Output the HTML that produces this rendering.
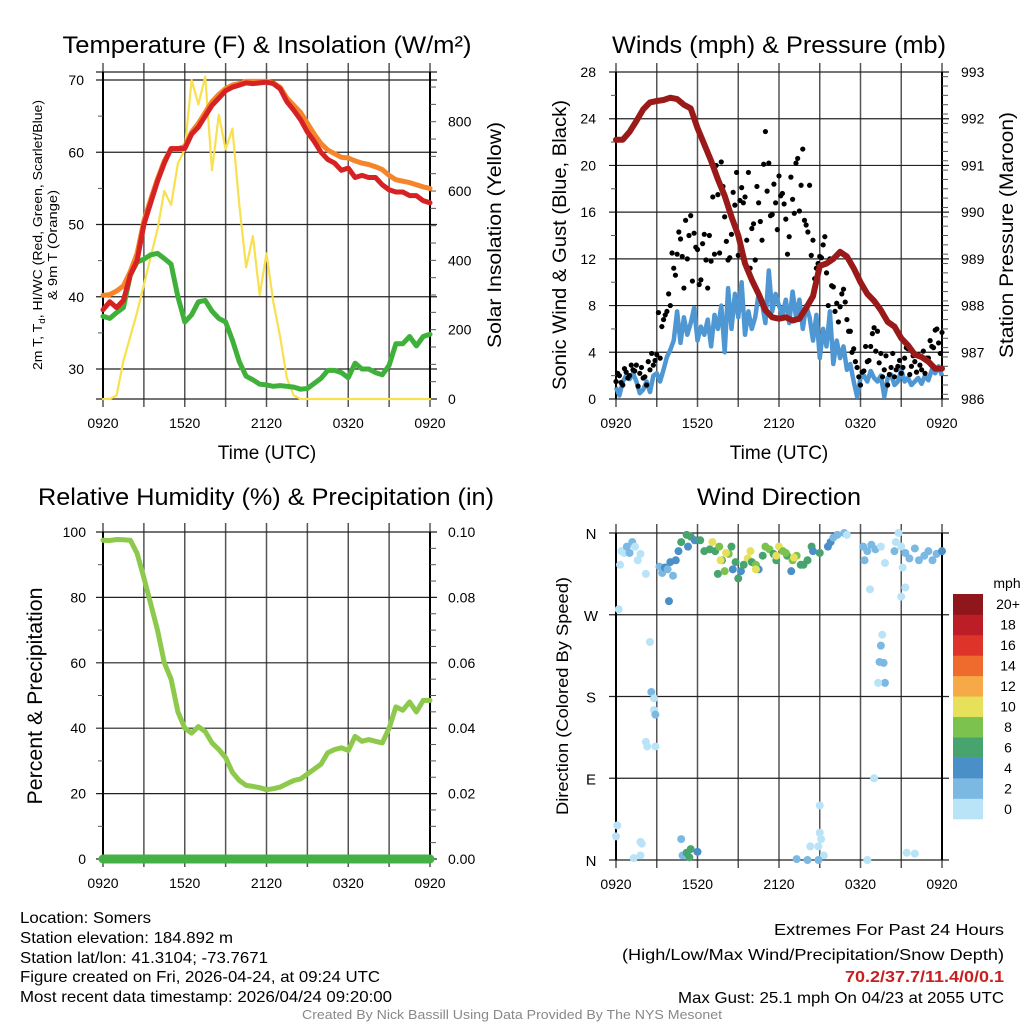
<!DOCTYPE html>
<html><head><meta charset="utf-8"><style>
html,body{margin:0;padding:0;background:#fff;}
svg{display:block;font-family:"Liberation Sans",sans-serif;}
</style></head><body>
<svg id="fig" width="1024" height="1024" viewBox="0 0 1024 1024" xmlns="http://www.w3.org/2000/svg"></svg>
<script>
// ---------- DATA (30-minute steps from 0920 UTC to 0920 UTC) ----------
const timeLabels = ["0920","1520","2120","0320","0920"];
const tempTicks = [30,40,50,60,70];
const solarTicks = [0,200,400,600,800];
const windTicks = [0,4,8,12,16,20,24,28];
const presTicks = [986,987,988,989,990,991,992,993];
const rhTicks = [0,20,40,60,80,100];
const precipTicks = ["0.00","0.02","0.04","0.06","0.08","0.10"];
const dirLabels = ["N","E","S","W","N"];
const speedBinLabels = ["0","2","4","6","8","10","12","14","16","18","20+"];
const speedBinColors = ["#b9e3f7","#7bb9e3","#4a8fc7","#48a46f","#7cc24e","#e6e05a","#f6a947","#ef6a2d","#dd3329","#bd1d26","#8f161b"];

const temp2m = [38.2,39.3,38.5,39.5,43,45,50,53,56,58.5,60.5,60.5,60.5,62.5,63.5,65,66.5,67.5,68.5,69,69.3,69.6,69.5,69.6,69.7,69.5,68.8,67,65.8,64.5,62.8,61.5,60,59,58.5,57.5,57.8,56.5,56.8,56.5,56.5,55.5,54.8,54.5,54.5,54,54,53.3,53];
const temp9m = [40.2,40.3,40.8,41.5,43.5,46,50.5,53.5,56.3,58.8,60.5,60.5,60.8,62.8,64,65.5,67,68,68.8,69.3,69.5,69.8,69.8,69.8,69.8,69.6,69,67.5,66.5,65.5,64,62.5,61.2,60.3,59.8,59.3,59.2,58.8,58.5,58.3,58,57.6,56.8,56.2,56,55.8,55.5,55.2,55];
const dewpoint = [37.3,37,37.8,38.5,43,44.8,45.2,45.8,46,45.3,44.5,40,36.5,37.5,39.3,39.5,38,37,36.5,34,31,29,28.5,27.9,27.8,27.6,27.7,27.6,27.5,27.2,27.3,28,28.7,29.8,29.8,29.5,28.8,30.8,30,30,29.5,29.2,30.5,33.5,33.5,34.5,33.2,34.5,34.8];
const solar = [0,0,10,110,180,250,330,410,490,600,560,680,720,920,850,930,660,820,720,780,560,380,470,300,420,280,180,60,10,0,0,0,0,0,0,0,0,0,0,0,0,0,0,0,0,0,0,0,0];
const pressure = [991.55,991.55,991.72,991.95,992.2,992.35,992.38,992.4,992.45,992.42,992.3,992.22,991.8,991.45,991.1,990.7,990.35,989.9,989.5,988.9,988.55,988.25,987.9,987.75,987.72,987.75,987.68,987.72,987.95,988.2,988.85,988.9,989.0,989.15,989.05,988.8,988.5,988.25,988.1,987.9,987.65,987.55,987.3,987.15,986.95,986.9,986.8,986.65,986.65];
// sustained wind at 15-minute steps
const windSpeed = [1,0.3,1.5,2,1.7,2.2,1.5,0.5,0.8,1.5,0.6,2,2.2,1.5,2.5,3.6,4.2,5,7.5,4.8,7,5.5,6.5,7.8,5,6.2,5.5,6.8,4.5,7.2,6,8,4,9.5,6,9,7,10,5.5,7.5,6,7,9,8.2,6.5,11,7.5,9,8,7.2,8.5,6.5,9.2,7,8.5,6,8,7,5,7.2,3.5,6,4.5,7.5,3,5,3.5,4.5,2.5,3,1.5,0.2,1.8,2,1.5,2.4,1.8,1.5,2,0.2,1.8,2.1,1.2,1.5,2.5,1.5,1.8,1.2,1.5,1.8,1.3,2,1.6,2.5,2.2,2.8,2];
// gusts at 15-minute steps
const windGust = [1.5,2,1.2,2.3,2,2.5,2.9,2.2,1.8,1.2,2.5,2.9,3.8,3.5,6.8,7.5,8,11.2,12.4,13.7,9.5,12,15.7,14.2,12.8,10.2,14.1,9.5,11.8,12.4,17.5,20.3,15.6,11.9,14.1,16.6,12.3,18.1,17.3,19.4,14.6,11.9,16.8,13.6,22.9,20.2,15.8,16.8,19.1,17.6,15.4,13.9,17.1,20.2,16.1,21.4,14.9,18.3,13.6,11.2,12.2,13.2,10.8,12,9.6,8.2,7.9,9.4,6.8,5.8,4.3,2.7,1.2,2.4,3.2,4.5,6.1,5.8,3.9,2.5,1.2,2.7,1.9,2.8,2.2,3.5,4.3,2.8,3.2,3.8,2.5,2.2,3.5,4.5,5.9,4.8,5.7];
// gusts offset by 7.5 minutes
const windGustB = [2.2,1.4,2.6,1.8,2.9,2.4,1.1,2.7,1.9,3.2,3.9,3.3,7.4,6.2,7.2,9.0,12.5,10.6,14.3,12.2,15.3,14.0,10.1,13.0,9.8,13.3,11.9,14.0,17.3,20.0,12.5,18.2,13.5,12.1,17.7,19.4,17.0,16.8,13.6,11.2,15.0,18.2,15.2,20.1,17.8,15.7,18.4,14.5,17.4,16.7,12.4,19.0,15.9,20.6,18.3,15.3,14.3,12.3,10.3,11.6,12.1,13.9,8.0,9.7,7.5,6.6,9.0,8.3,5.8,4.0,3.2,1.9,2.3,4.5,3.3,5.6,4.1,3.1,1.9,3.7,2.1,3.9,2.5,3.3,2.7,4.4,2.1,3.7,2.3,2.9,4.1,3.5,5.0,4.4,6.0,3.9];
const relHum = [97.5,97.4,97.7,97.6,97.5,93.5,86,78,70,60,55,45,40,38.5,40.5,39,35.5,33.5,31,26.5,24,22.5,22.2,21.8,21.2,21.5,22,23,24,24.5,26,27.5,29,32.5,33.5,34,33.2,37.5,36,36.5,36,35.5,40,46.5,45.5,48,45,48.5,48.5];
const precip = [0,0,0,0,0,0,0,0,0,0,0,0,0,0,0,0,0,0,0,0,0,0,0,0,0,0,0,0,0,0,0,0,0,0,0,0,0,0,0,0,0,0,0,0,0,0,0,0,0];
// wind direction observations: hours since 0920, direction (deg), speed (mph)
const dirHours = [0.4,0.6,0.8,1.0,1.2,1.4,1.6,0.3,1.8,2.2,0.2,2.5,2.6,2.8,2.8,2.9,2.2,2.3,2.9,0.1,0.0,1.8,1.9,1.3,1.8,3.2,3.4,3.6,3.8,4.0,4.2,4.4,4.6,4.8,5.2,5.5,5.3,5.8,4.8,4.9,5.2,5.5,5.4,6.0,3.9,6.5,6.9,7.1,7.3,7.6,7.8,8.3,8.5,8.8,9.2,9.7,10.0,10.3,10.8,11.0,11.3,11.6,12.0,12.3,12.6,13.0,13.3,13.8,14.1,14.4,15.0,15.6,15.8,16.0,16.3,16.8,17.0,7.5,8.0,8.6,9.4,10.5,12.9,9.0,11.8,14.5,18.2,18.5,18.8,19.1,18.3,19.5,19.8,18.7,19.5,19.6,19.4,19.7,19.8,19.3,19.0,20.6,20.8,21.0,21.3,21.6,22.0,22.3,22.7,23.0,23.3,23.6,24.0,21.1,21.0,21.3,20.5,15.0,15.0,15.1,14.9,14.3,15.3,18.5,21.4,22.0,13.3,14.1,14.9,7.7,8.1,9.9,11.8,13.1,10.3,6.2,12.5,13.6];
const dirDeg = [340,338,345,338,350,345,330,325,337,315,276,240,185,178,165,160,130,125,125,38,26,20,18,2,5,323,316,322,320,328,313,330,340,350,358,356,345,352,23,5,8,12,3,9,285,340,342,350,340,345,330,337,345,328,318,332,328,325,335,345,342,337,345,340,335,330,335,325,330,345,338,345,350,355,358,360,358,315,318,320,325,320,318,310,330,340,345,340,347,342,330,345,327,298,236,248,218,217,195,195,90,350,360,345,338,332,343,330,335,340,330,337,340,322,290,300,340,60,30,23,15,15,5,0,8,7,1,0,0,330,338,340,335,333,320,352,338,325];
const dirSpeed = [1,1.5,2,2.5,2.5,1,1,0.5,1,0.5,0.5,0.5,2.5,1,1.5,2.5,1.5,1,1,1,1,1,1,1,1,2.5,3,4.5,3.5,4.5,3,5,5.5,6.5,6,7,5,4.5,3.5,3.5,6,6,6,4,5,6,6,10,7,8,6,9,6,6,5,10,7,8,7,9,8,7,10,8,7,9,8,6,7,6,7,4,4,3,3,2,1,6,8,5,6,5,4,6,6,5,2,2,2,2,2,1,1,1,2,1,2,3,2,1,1,1,1,1.5,2,2,2,2.5,3,2.5,2,3,4,1,0.5,1,2,1,1,1,1.5,1,1,1,1,1,3,3,2,10,10.5,10,11,10.5,10,7,8,7];

// ---------- helpers ----------
const NS="http://www.w3.org/2000/svg";
const svg=document.getElementById('fig');
function mk(tag,attrs,parent){const e=document.createElementNS(NS,tag);for(const k in attrs)e.setAttribute(k,attrs[k]);(parent||svg).appendChild(e);return e;}
function txt(s,attrs,parent){const e=mk('text',attrs,parent);e.textContent=s;return e;}
function xScale(p,h){return p.x0+(h/24)*(p.x1-p.x0);}
function lin(v,d0,d1,r0,r1){return r0+(v-d0)/(d1-d0)*(r1-r0);}
function seriesPath(p,arr,step,yf){let d='';arr.forEach((v,i)=>{const x=xScale(p,i*step),y=yf(v);d+=(i?'L':'M')+x.toFixed(1)+' '+y.toFixed(1);});return d;}

function frame(p,name,hLines){
  const g=mk('g',{});
  
  
  for(let i=0;i<=8;i++){
    const x=xScale(p,i*3);
    mk('line',{x1:x,x2:x,y1:p.y0-9,y2:p.y1+8,stroke:'#555','stroke-width':1.5},g);
  }
  hLines.forEach(y=>mk('line',{x1:p.x0-7,x2:p.x1+7,y1:y,y2:y,stroke:'#222','stroke-width':1.2},g));
  mk('line',{x1:p.x0,x2:p.x0,y1:p.y0,y2:p.y1,stroke:'#000','stroke-width':2},g);
  mk('line',{x1:p.x1,x2:p.x1,y1:p.y0,y2:p.y1,stroke:'#000','stroke-width':2},g);
  timeLabels.forEach((s,i)=>{
    const t=txt(s,{x:xScale(p,i*6),y:p.y1+29,'font-size':14,'text-anchor':'middle'});
    
    
  });
  return g;
}
function title(s,x,y,w,name){const t=txt(s,{x:x,y:y,'font-size':24,'text-anchor':'middle',textLength:w,lengthAdjust:'spacingAndGlyphs'});return t;}
function vtitle(s,cx,cy,len,fs,name){const t=txt(s,{x:0,y:0,'font-size':fs,'text-anchor':'middle',textLength:len,lengthAdjust:'spacingAndGlyphs',transform:`translate(${cx},${cy}) rotate(-90)`});return t;}
function minor(x,y,len){mk('line',{x1:x,x2:x+len,y1:y,y2:y,stroke:'#555','stroke-width':1});}

// ---------- Panel 1: temperature ----------
const P1={x0:103,x1:430,y0:72,y1:399};
const tY=v=>lin(v,30,70,369,80);
const sY=v=>lin(v,0,800,399,121.7);
title('Temperature (F) & Insolation (W/m\u00B2)',267,53,409,'temperature-title');
frame(P1,'temperature',[72].concat(tempTicks.map(tY),[399]));
for(let v=35;v<=65;v+=10)minor(P1.x0-5,tY(v),5);
for(let v=50;v<=900;v+=50)minor(P1.x1,sY(v),6);
tempTicks.forEach(v=>{const t=txt(String(v),{x:84,y:tY(v)+5,'font-size':14,'text-anchor':'end'});});
solarTicks.forEach(v=>{const t=txt(String(v),{x:448,y:sY(v)+5,'font-size':14});});
{const t=mk('text',{x:0,y:0,'font-size':13,'text-anchor':'middle',transform:'translate(42,235) rotate(-90)',textLength:270,lengthAdjust:'spacingAndGlyphs'});
 const a=mk('tspan',{},t);a.textContent='2m T, T';const b=mk('tspan',{'font-size':9,dy:3},t);b.textContent='d';const c=mk('tspan',{dy:-3},t);c.textContent=', HI/WC (Red, Green, Scarlet/Blue)';
 }
vtitle('& 9m T (Orange)',57,245,110,13,'temp-axis-title-2');
vtitle('Solar Insolation (Yellow)',501,235,226,19,'solar-axis-title');
const xt1=txt('Time (UTC)',{x:267,y:459,'font-size':19,'text-anchor':'middle'});
[[solar,'#f9e04f',2.2,'solar-line'],[dewpoint,'#3fb03a',5,'dewpoint-line'],[temp9m,'#f5842a',5,'temp-9m-line'],[temp2m,'#d62222',5,'temp-2m-line']].forEach(([arr,col,w,n])=>{
  const yf=arr===solar?sY:tY;
  const e=mk('path',{d:seriesPath(P1,arr,0.5,yf),fill:'none',stroke:col,'stroke-width':w,'stroke-linejoin':'round','stroke-linecap':'round'});
  
});

// ---------- Panel 2: winds & pressure ----------
const P2={x0:616,x1:942,y0:72,y1:399};
const wY=v=>lin(v,0,28,399,72);
const pY=v=>lin(v,986,993,399,72);
title('Winds (mph) & Pressure (mb)',779,53,334,'winds-title');
frame(P2,'winds',windTicks.map(wY));
for(let v=2;v<28;v+=4)minor(P2.x0-5,wY(v),5);
for(let v=986.1;v<993;v+=0.2)minor(P2.x1,pY(v),6);
windTicks.forEach(v=>{const t=txt(String(v),{x:596,y:wY(v)+5,'font-size':14,'text-anchor':'end'});});
presTicks.forEach(v=>{const t=txt(String(v),{x:961,y:pY(v)+5,'font-size':14});});
vtitle('Sonic Wind & Gust (Blue, Black)',566,245,290,19,'wind-axis-title');
vtitle('Station Pressure (Maroon)',1013,235,246,19,'pressure-axis-title');
const xt2=txt('Time (UTC)',{x:779,y:459,'font-size':19,'text-anchor':'middle'});
{const e=mk('path',{d:seriesPath(P2,windSpeed,0.25,wY),fill:'none',stroke:'#4f97d3','stroke-width':4.5,'stroke-linejoin':'round'});}
windGust.forEach((v,i)=>{const c=mk('circle',{cx:xScale(P2,i*0.25),cy:wY(v),r:2.6,fill:'#000'});
 
 });
windGustB.forEach((v,i)=>{const c=mk('circle',{cx:xScale(P2,0.125+i*0.25),cy:wY(v),r:2.6,fill:'#000'});
 
 });
{const e=mk('path',{d:seriesPath(P2,pressure,0.5,pY),fill:'none',stroke:'#9a1a1a','stroke-width':6,'stroke-linejoin':'round','stroke-linecap':'round'});}

// ---------- Panel 3: RH & precip ----------
const P3={x0:103,x1:430,y0:532,y1:859};
const rY=v=>lin(v,0,100,859,532);
const prY=v=>lin(v,0,0.1,859,532);
title('Relative Humidity (%) & Precipitation (in)',266,505,456,'humidity-title');
frame(P3,'humidity',rhTicks.map(rY));
for(let v=10;v<100;v+=20)minor(P3.x0-5,rY(v),5);
for(let v=5;v<100;v+=5)if(v%20)minor(P3.x1,rY(v),6);
rhTicks.forEach(v=>{const t=txt(String(v),{x:86,y:rY(v)+5,'font-size':14,'text-anchor':'end'});});
precipTicks.forEach(v=>{const t=txt(v,{x:448,y:prY(parseFloat(v))+5,'font-size':14});});
vtitle('Percent & Precipitation',42,696,217,21,'rh-axis-title');
{const e=mk('path',{d:seriesPath(P3,relHum,0.5,rY),fill:'none',stroke:'#8dc94a','stroke-width':5,'stroke-linejoin':'round','stroke-linecap':'round'});}
{const e=mk('path',{d:seriesPath(P3,precip,0.5,prY),fill:'none',stroke:'#44b045','stroke-width':9,'stroke-linecap':'round'});}

// ---------- Panel 4: wind direction ----------
const P4={x0:616,x1:942,y0:533,y1:860};
const dY=v=>lin(v,0,360,860,533);
title('Wind Direction',779,505,164,'wind-direction-title');
frame(P4,'wind-direction',[0,90,180,270,360].map(dY));
dirLabels.forEach((s,i)=>{const t=txt(s,{x:591,y:dY(i*90)+6,'font-size':15,'text-anchor':'middle'});});
vtitle('Direction (Colored By Speed)',568,696,238,17,'direction-axis-title');
dirHours.forEach((h,i)=>{
  const bin=Math.min(10,Math.floor(dirSpeed[i]/2));
  const c=mk('circle',{cx:xScale(P4,h),cy:dY(dirDeg[i]),r:4,fill:speedBinColors[bin]});
  
  
});
// colorbar
const cbTop=594,cbBot=819,cbH=(cbBot-cbTop)/speedBinLabels.length;
const mph=txt('mph',{x:1007,y:588,'font-size':14,'text-anchor':'middle'});
speedBinLabels.forEach((s,i)=>{
  const y=cbBot-(i+1)*cbH;
  const r=mk('rect',{x:953,y:y,width:30,height:cbH+0.3,fill:speedBinColors[i]});
  
  
  const t=txt(s,{x:1008,y:y+cbH/2+5,'font-size':14,'text-anchor':'middle'});
  
  
});

// ---------- footer ----------
const leftInfo=[['Location: Somers',131,923],['Station elevation: 184.892 m',213,943],['Station lat/lon: 41.3104; -73.7671',248,963],['Figure created on Fri, 2026-04-24, at 09:24 UTC',360,982],['Most recent data timestamp: 2026/04/24 09:20:00',372,1002]];
leftInfo.forEach(([s,w,y])=>{const t=txt(s,{x:20,y:y,'font-size':16,textLength:w,lengthAdjust:'spacingAndGlyphs'});});
const rightInfo=[['Extremes For Past 24 Hours',230,935,'#000','normal'],['(High/Low/Max Wind/Precipitation/Snow Depth)',382,960,'#000','normal'],['70.2/37.7/11.4/0/0.1',159,982,'#c81e1e','bold'],['Max Gust: 25.1 mph On 04/23 at 2055 UTC',326,1003,'#000','normal']];
rightInfo.forEach(([s,w,y,c,fw])=>{const t=txt(s,{x:1004-w,y:y,'font-size':16,fill:c,'font-weight':fw,textLength:w,lengthAdjust:'spacingAndGlyphs'});});
{const t=txt('Created By Nick Bassill Using Data Provided By The NYS Mesonet',{x:302,y:1019,'font-size':13,fill:'#888',textLength:420,lengthAdjust:'spacingAndGlyphs'});}
</script>
</body></html>
